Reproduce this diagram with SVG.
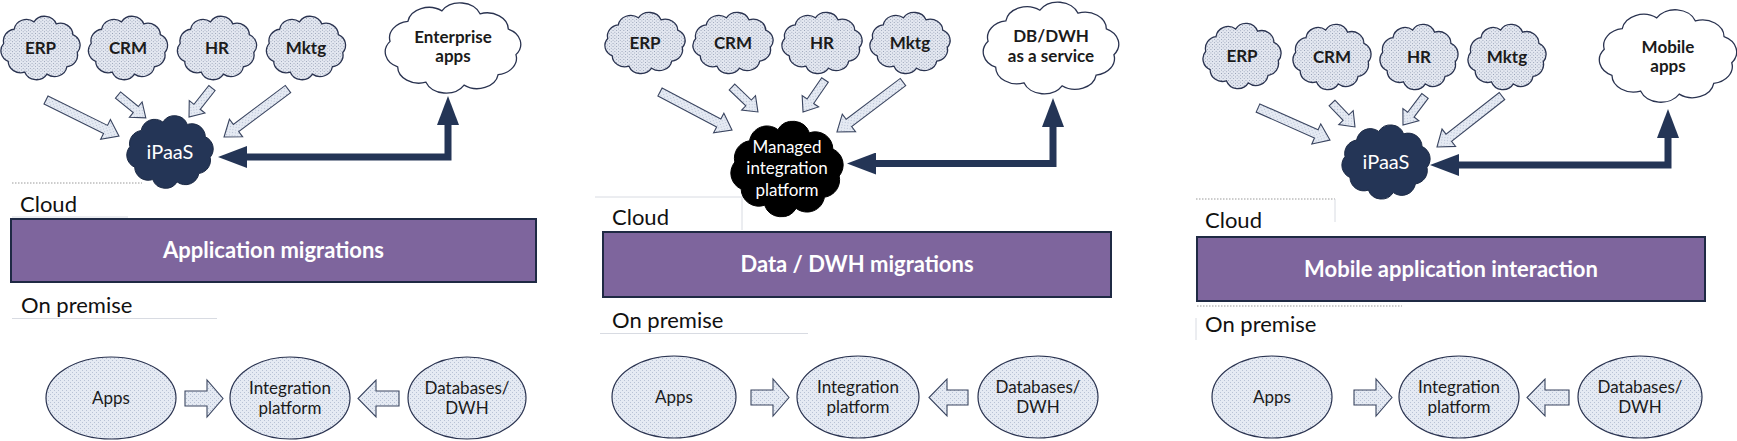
<svg xmlns="http://www.w3.org/2000/svg" xmlns:xlink="http://www.w3.org/1999/xlink" width="1737" height="441" viewBox="0 0 1737 441">
<defs>
<pattern id="stip" width="4" height="4" patternUnits="userSpaceOnUse"><rect width="4" height="4" fill="#e3e7f0"/><rect x="0" y="0" width="1" height="1" fill="#8c97ae"/><rect x="2" y="2" width="1" height="1" fill="#8c97ae"/></pattern>
<pattern id="stip2" width="4" height="4" patternUnits="userSpaceOnUse"><rect width="4" height="4" fill="#e5eaf3"/><rect x="0" y="0" width="1" height="1" fill="#b8c2d5"/><rect x="2" y="2" width="1" height="1" fill="#b8c2d5"/></pattern>
<path id="cloud" vector-effect="non-scaling-stroke" d="M41.4,5.6 A14,14 0 0 1 29.7,22.6 A14,14 0 0 1 7.3,31.5 A14,14 0 0 1 -17.8,29 A14,14 0 0 1 -36.4,16 A14,14 0 0 1 -41.4,-5.6 A14,14 0 0 1 -29.7,-22.6 A14,14 0 0 1 -7.3,-31.5 A14,14 0 0 1 17.8,-29 A14,14 0 0 1 36.4,-16 A14,14 0 0 1 41.4,5.6 Z"/>
<marker id="ah" markerUnits="userSpaceOnUse" markerWidth="30" markerHeight="22" viewBox="0 0 29 22" refX="0" refY="11" orient="auto-start-reverse"><path d="M0,0 L29,11 L0,22 Z" fill="#243556"/></marker>
<style>
text{font-family:Lato,"Liberation Sans",Arial,sans-serif}
.lc{fill:url(#stip);stroke:#2a3350;stroke-width:1.3}
.wc{fill:#ffffff;stroke:#2a3350;stroke-width:1.3}
.dc{fill:#243556;stroke:#1c2a45;stroke-width:1}
.bc{fill:#000000;stroke:#000000;stroke-width:1}
.cl{font-size:17px;font-weight:bold;fill:#1b1b1b;text-anchor:middle}
.wt{fill:#ffffff;text-anchor:middle}
.box{fill:#7e659d;stroke:#1f2a44;stroke-width:2}
.bt{font-size:22px;font-weight:bold;fill:#ffffff;text-anchor:middle}
.zone{font-size:22px;fill:#111111}
.ell{fill:url(#stip2);stroke:#2a3350;stroke-width:1.2}
.et{font-size:17px;fill:#1b1b1b;text-anchor:middle}
.ba{fill:url(#stip2);stroke:#3a4560;stroke-width:1.1}
.conn{fill:none;stroke:#243556;stroke-width:7;marker-start:url(#ah);marker-end:url(#ah)}
.dot{stroke:#9a9a9a;stroke-width:1;stroke-dasharray:1.5 1.5;fill:none}
.faint{stroke:#d8dbe2;stroke-width:1;fill:none}
</style>
</defs>
<rect width="1737" height="441" fill="#ffffff"/>

<!-- Panel 1 -->
<g id="p1-erp"><use href="#cloud" class="lc" transform="translate(40.5,48) scale(0.888,0.83)"/><text class="cl" x="40.5" y="54">ERP</text></g>
<g id="p1-crm"><use href="#cloud" class="lc" transform="translate(128,48) scale(0.888,0.83)"/><text class="cl" x="128" y="54">CRM</text></g>
<g id="p1-hr"><use href="#cloud" class="lc" transform="translate(217,48) scale(0.888,0.83)"/><text class="cl" x="217" y="54">HR</text></g>
<g id="p1-mktg"><use href="#cloud" class="lc" transform="translate(306,48) scale(0.888,0.83)"/><text class="cl" x="306" y="54">Mktg</text></g>
<g id="p1-enterprise"><use href="#cloud" class="wc" transform="translate(453,48) scale(1.52,1.18)"/><text class="cl" x="453" y="43">Enterprise</text><text class="cl" x="453" y="62">apps</text></g>
<g id="p1-ipaas"><use href="#cloud" class="dc" transform="translate(170,152) scale(0.97,0.95)"/><text class="wt" x="170" y="159" font-size="20">iPaaS</text></g>
<g id="p1-zones">
<line class="dot" x1="12" y1="183" x2="142" y2="183"/>
<line class="faint" x1="12" y1="217" x2="128" y2="217"/>
<text class="zone" x="20" y="212">Cloud</text>
<text class="zone" x="21" y="313">On premise</text>
<line class="faint" x1="12" y1="318.5" x2="217" y2="318.5"/>
</g>
<g id="p1-banner"><rect class="box" x="11" y="219" width="525" height="63"/><text class="bt" x="273.5" y="258">Application migrations</text></g>
<g id="p1-apps"><ellipse class="ell" cx="111" cy="398" rx="65" ry="41"/><text class="et" x="111" y="404">Apps</text></g>
<g id="p1-integration"><ellipse class="ell" cx="290" cy="398" rx="60" ry="41"/><text class="et" x="290" y="394">Integration</text><text class="et" x="290" y="414">platform</text></g>
<g id="p1-db"><ellipse class="ell" cx="467" cy="398" rx="59" ry="41"/><text class="et" x="467" y="394">Databases/</text><text class="et" x="467" y="414">DWH</text></g>

<!-- Panel 2 -->
<g id="p2-erp"><use href="#cloud" class="lc" transform="translate(645,43) scale(0.9,0.8)"/><text class="cl" x="645" y="49">ERP</text></g>
<g id="p2-crm"><use href="#cloud" class="lc" transform="translate(733,43) scale(0.9,0.8)"/><text class="cl" x="733" y="49">CRM</text></g>
<g id="p2-hr"><use href="#cloud" class="lc" transform="translate(822,43) scale(0.9,0.8)"/><text class="cl" x="822" y="49">HR</text></g>
<g id="p2-mktg"><use href="#cloud" class="lc" transform="translate(910,43) scale(0.9,0.8)"/><text class="cl" x="910" y="49">Mktg</text></g>
<g id="p2-dbaas"><use href="#cloud" class="wc" transform="translate(1051,48) scale(1.52,1.2)"/><text class="cl" x="1051" y="42">DB/DWH</text><text class="cl" x="1051" y="62">as a service</text></g>
<g id="p2-managed"><use href="#cloud" class="bc" transform="translate(787,169) scale(1.26,1.25)"/><text class="wt" x="787" y="153" font-size="17">Managed</text><text class="wt" x="787" y="174" font-size="17">integration</text><text class="wt" x="787" y="196" font-size="17">platform</text></g>
<g id="p2-zones">
<path class="faint" d="M595,197 H742 V230"/>
<text class="zone" x="612" y="225">Cloud</text>
<text class="zone" x="612" y="328">On premise</text>
<line class="faint" x1="600" y1="333.5" x2="808" y2="333.5"/>
</g>
<g id="p2-banner"><rect class="box" x="603" y="232" width="508" height="65"/><text class="bt" x="857" y="272">Data / DWH migrations</text></g>
<g id="p2-apps"><ellipse class="ell" cx="674" cy="397" rx="62" ry="41"/><text class="et" x="674" y="403">Apps</text></g>
<g id="p2-integration"><ellipse class="ell" cx="858" cy="397" rx="61" ry="41"/><text class="et" x="858" y="393">Integration</text><text class="et" x="858" y="413">platform</text></g>
<g id="p2-db"><ellipse class="ell" cx="1038" cy="397" rx="60" ry="41"/><text class="et" x="1038" y="393">Databases/</text><text class="et" x="1038" y="413">DWH</text></g>

<!-- Panel 3 -->
<g id="p3-erp"><use href="#cloud" class="lc" transform="translate(1242,56) scale(0.876,0.855)"/><text class="cl" x="1242" y="62">ERP</text></g>
<g id="p3-crm"><use href="#cloud" class="lc" transform="translate(1332,57) scale(0.876,0.855)"/><text class="cl" x="1332" y="63">CRM</text></g>
<g id="p3-hr"><use href="#cloud" class="lc" transform="translate(1419,57) scale(0.876,0.855)"/><text class="cl" x="1419" y="63">HR</text></g>
<g id="p3-mktg"><use href="#cloud" class="lc" transform="translate(1507,57) scale(0.876,0.855)"/><text class="cl" x="1507" y="63">Mktg</text></g>
<g id="p3-mobile"><use href="#cloud" class="wc" transform="translate(1668,56) scale(1.54,1.21)"/><text class="cl" x="1668" y="53">Mobile</text><text class="cl" x="1668" y="72">apps</text></g>
<g id="p3-ipaas"><use href="#cloud" class="dc" transform="translate(1386,162) scale(0.99,0.97)"/><text class="wt" x="1386" y="169" font-size="20">iPaaS</text></g>
<g id="p3-zones">
<line class="dot" x1="1196" y1="199" x2="1335" y2="199"/>
<line class="faint" x1="1335" y1="199" x2="1335" y2="222"/>
<text class="zone" x="1205" y="228">Cloud</text>
<line class="dot" x1="1197" y1="306" x2="1402" y2="306"/>
<line class="faint" x1="1196" y1="318" x2="1196" y2="340"/>
<text class="zone" x="1205" y="332">On premise</text>
</g>
<g id="p3-banner"><rect class="box" x="1197" y="237" width="508" height="64"/><text class="bt" x="1451" y="276.5">Mobile application interaction</text></g>
<g id="p3-apps"><ellipse class="ell" cx="1272" cy="397" rx="60" ry="41"/><text class="et" x="1272" y="403">Apps</text></g>
<g id="p3-integration"><ellipse class="ell" cx="1459" cy="397" rx="60" ry="41"/><text class="et" x="1459" y="393">Integration</text><text class="et" x="1459" y="413">platform</text></g>
<g id="p3-db"><ellipse class="ell" cx="1640" cy="397" rx="62" ry="41"/><text class="et" x="1640" y="393">Databases/</text><text class="et" x="1640" y="413">DWH</text></g>

<!-- Connectors -->
<g id="connectors">
<path class="ba" transform="translate(46,100) rotate(26.3)" d="M0,-4.5 H66.4 V-11 L81.4,0 L66.4,11 V4.5 H0 Z"/>
<path class="ba" transform="translate(118,95) rotate(39.4)" d="M0,-4 H23 V-10 L36,0 L23,10 V4 H0 Z"/>
<path class="ba" transform="translate(212,88) rotate(128.4)" d="M0,-4 H24 V-10 L37,0 L24,10 V4 H0 Z"/>
<path class="ba" transform="translate(288,89) rotate(143.1)" d="M0,-4.5 H65 V-11 L80,0 L65,11 V4.5 H0 Z"/>
<path class="conn" d="M448,125 V157 H247"/>
<path class="ba" d="M185,391 H207 V380 L223,398.5 L207,417 V406 H185 Z"/>
<path class="ba" d="M399,391 H376 V380 L358,398.5 L376,417 V406 H399 Z"/>

<path class="ba" transform="translate(660,92) rotate(27.8)" d="M0,-4.5 H66.4 V-11 L81.4,0 L66.4,11 V4.5 H0 Z"/>
<path class="ba" transform="translate(732,87) rotate(43.9)" d="M0,-4 H23 V-10 L36,0 L23,10 V4 H0 Z"/>
<path class="ba" transform="translate(825,80) rotate(124.5)" d="M0,-4 H25.8 V-10 L38.8,0 L25.8,10 V4 H0 Z"/>
<path class="ba" transform="translate(903,82) rotate(142.9)" d="M0,-4.5 H67.8 V-11 L82.8,0 L67.8,11 V4.5 H0 Z"/>
<path class="conn" d="M1053,127 V163.5 H876"/>
<path class="ba" d="M751,390 H773 V379 L789,397.5 L773,416 V405 H751 Z"/>
<path class="ba" d="M968,390 H947 V379 L929,397.5 L947,416 V405 H968 Z"/>

<path class="ba" transform="translate(1258,108) rotate(24)" d="M0,-4.5 H63.8 V-11 L78.8,0 L63.8,11 V4.5 H0 Z"/>
<path class="ba" transform="translate(1332,103) rotate(46.2)" d="M0,-4 H20.2 V-10 L33.2,0 L20.2,10 V4 H0 Z"/>
<path class="ba" transform="translate(1425,96) rotate(127.2)" d="M0,-4 H23.4 V-10 L36.4,0 L23.4,10 V4 H0 Z"/>
<path class="ba" transform="translate(1502,96) rotate(141.9)" d="M0,-4.5 H67.6 V-11 L82.6,0 L67.6,11 V4.5 H0 Z"/>
<path class="conn" d="M1668,138 V165 H1459"/>
<path class="ba" d="M1354,390 H1376 V379 L1392,397.5 L1376,416 V405 H1354 Z"/>
<path class="ba" d="M1569,390 H1545 V379 L1527,397.5 L1545,416 V405 H1569 Z"/>
</g>
</svg>
